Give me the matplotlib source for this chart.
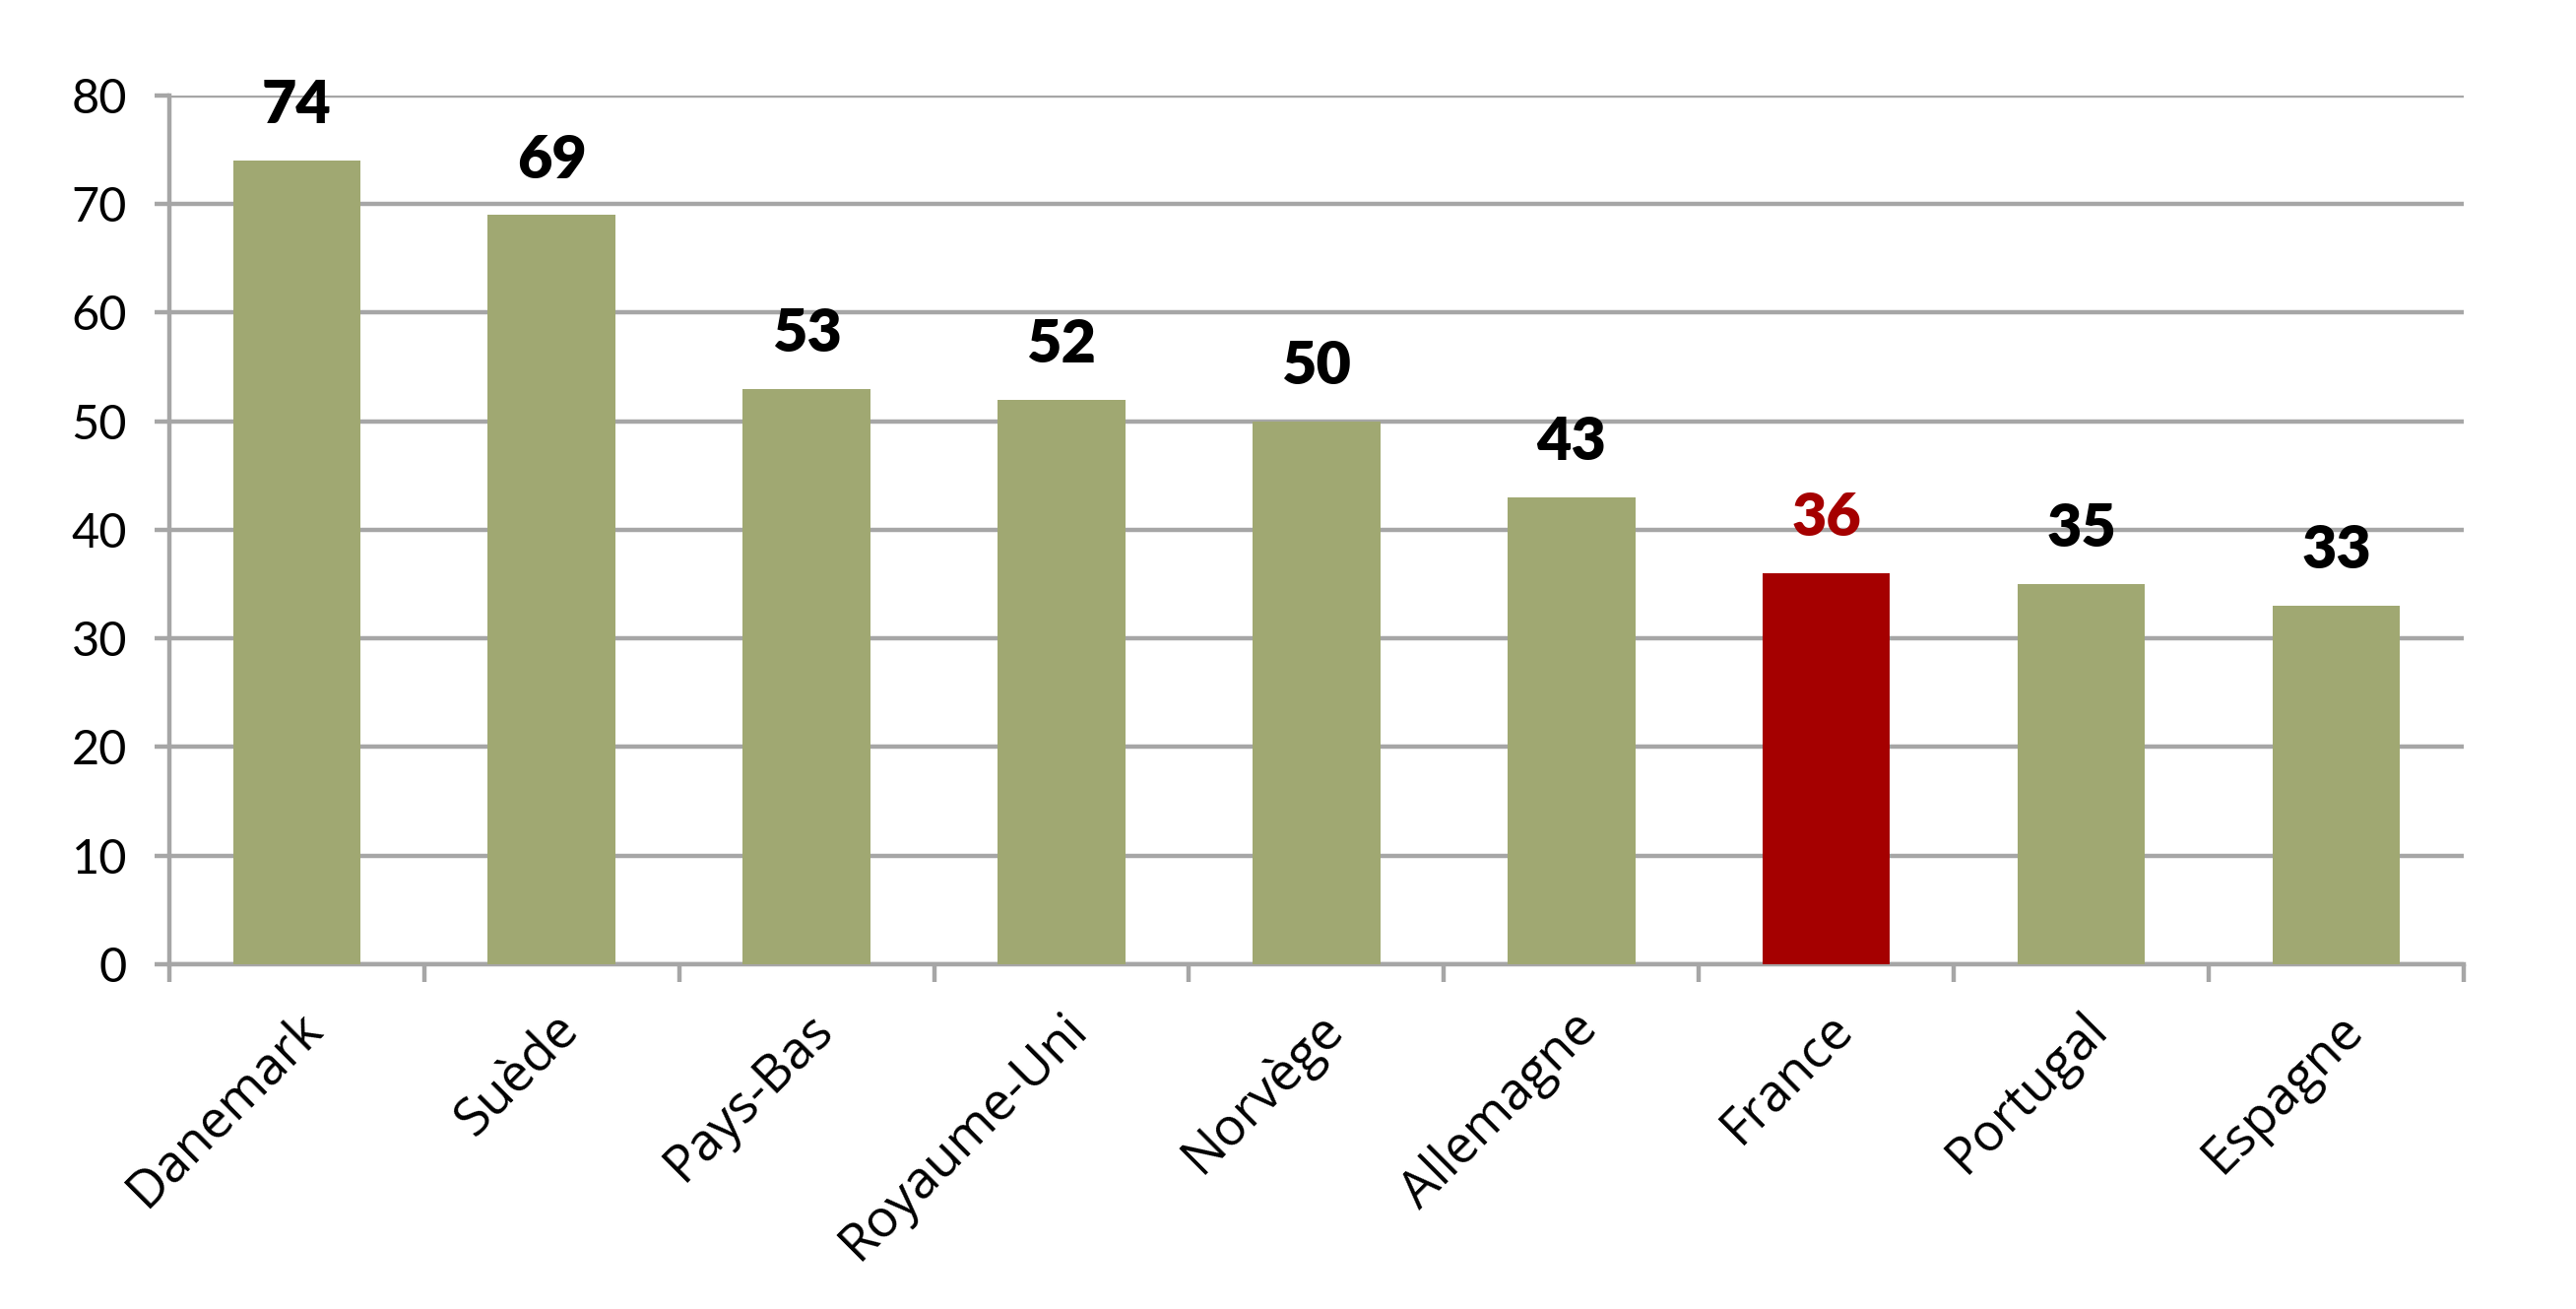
import matplotlib
matplotlib.use("Agg")
import matplotlib.pyplot as plt
import numpy as np

categories = ["Danemark", "Suède", "Pays-Bas", "Royaume-Uni", "Norvège",
              "Allemagne", "France", "Portugal", "Espagne"]
values = [74, 69, 53, 52, 50, 43, 36, 35, 33]
highlight = "France"
yticks = [0, 10, 20, 30, 40, 50, 60, 70, 80]

GREEN = "#A0A872"
RED = "#A50000"
GRID = "#A6A6A6"

fig = plt.figure(figsize=(13.08, 6.645), dpi=200)
ax = fig.add_axes([0.0657, 0.2634, 0.8907, 0.6636])

x = np.arange(len(categories))
colors = [RED if c == highlight else GREEN for c in categories]
ax.bar(x, values, width=0.5, color=colors, zorder=3)

for xi, v, c in zip(x, values, categories):
    ax.annotate(str(v), (xi, v), xytext=(0, 10), textcoords="offset points",
                ha="center", va="bottom", fontsize=22, fontweight="heavy",
                family="Lato", color=RED if c == highlight else "black",
                zorder=4)

ax.set_xlim(-0.5, len(categories) - 0.5)
ax.set_ylim(0, 80)
ax.set_yticks(yticks)
ax.set_yticklabels([str(t) for t in yticks], fontsize=17.5, family="Lato")
ax.yaxis.grid(True, color=GRID, linewidth=1.6, zorder=0)
ax.set_axisbelow(True)

ax.set_xticks(x)
ax.set_xticklabels(categories, rotation=45, ha="right", rotation_mode="anchor",
                   fontsize=19, family=["Open Sans", "DejaVu Sans"])
ax.set_xticks(np.arange(-0.5, len(categories)), minor=True)
ax.tick_params(axis="x", which="major", length=0, pad=14)
ax.tick_params(axis="x", which="minor", length=6.5, width=1.6, color=GRID)
ax.tick_params(axis="y", length=5.4, width=1.6, color=GRID, pad=10)

for s in ["top", "right"]:
    ax.spines[s].set_visible(False)
for s in ["left", "bottom"]:
    ax.spines[s].set_color(GRID)
    ax.spines[s].set_linewidth(1.6)

fig.savefig("out.png", dpi=200, facecolor="white")
